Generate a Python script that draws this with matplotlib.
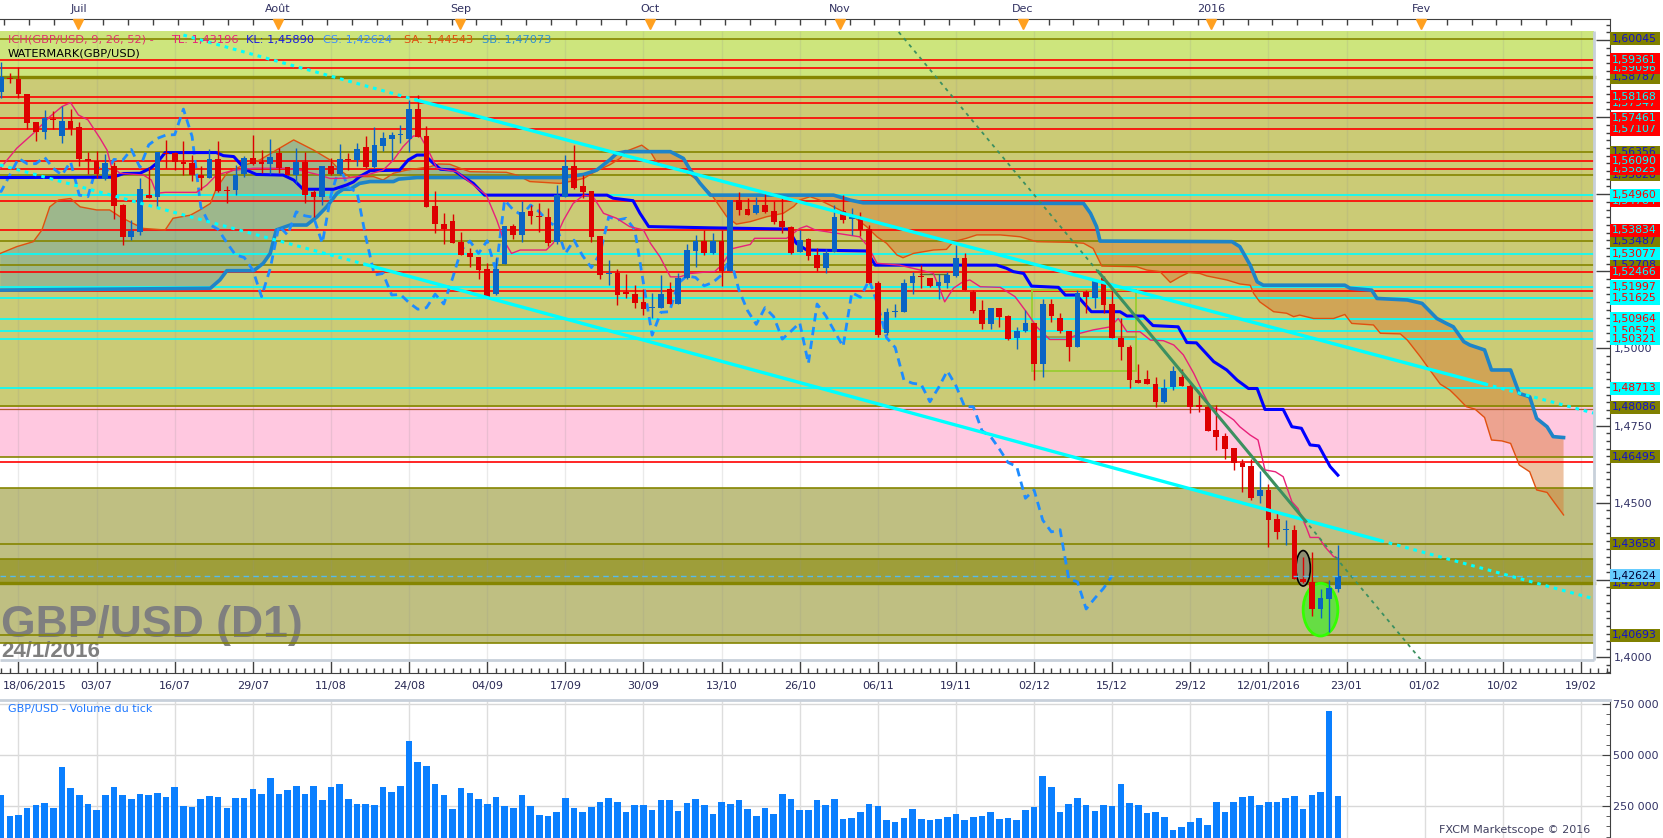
import matplotlib
matplotlib.use('Agg')
import matplotlib.pyplot as plt
import matplotlib.transforms as mtransforms
from matplotlib.patches import Rectangle, Ellipse
from matplotlib.ticker import FixedLocator, MultipleLocator
import numpy as np

# ---------------- data (bar index 0 = 18/06/2015) ----------------
first_bar = -2
opens = [1.5832, 1.5876, 1.5874, 1.5825, 1.5734, 1.5703, 1.5741, 1.5689, 1.5737, 1.5718,
         1.5614, 1.5609, 1.5549, 1.5591, 1.5465, 1.5362, 1.5378, 1.5497, 1.5492, 1.5632,
         1.5632, 1.5605, 1.5601, 1.5561, 1.5553, 1.5613, 1.5513, 1.5513, 1.5564, 1.5616,
         1.5600, 1.5599, 1.5634, 1.5588, 1.5562, 1.5605, 1.5508, 1.5492, 1.5591, 1.5565,
         1.5611, 1.5611, 1.5652, 1.5587, 1.5657, 1.5678, 1.5692, 1.5678, 1.5776, 1.5689,
         1.5462, 1.5403, 1.5413, 1.5346, 1.5308, 1.5297, 1.5257, 1.5178, 1.5273, 1.5397,
         1.5368, 1.5445, 1.5430, 1.5427, 1.5344, 1.5490, 1.5591, 1.5526, 1.5510, 1.5365,
         1.5242, 1.5245, 1.5184, 1.5175, 1.5151, 1.5131, 1.5130, 1.5193, 1.5144, 1.5227,
         1.5317, 1.5348, 1.5308, 1.5349, 1.5252, 1.5481, 1.5452, 1.5438, 1.5465, 1.5445,
         1.5413, 1.5395, 1.5313, 1.5355, 1.5303, 1.5262, 1.5313, 1.5445, 1.5421, 1.5422,
         1.5386, 1.5211, 1.5049, 1.5118, 1.5119, 1.5211, 1.5235, 1.5229, 1.5203, 1.5213,
         1.5235, 1.5294, 1.5184, 1.5124, 1.5078, 1.5132, 1.5106, 1.5035, 1.5056, 1.5083,
         1.4951, 1.5144, 1.5100, 1.5056, 1.5006, 1.5182, 1.5162, 1.5227, 1.5144, 1.5035,
         1.5003, 1.4898, 1.4901, 1.4883, 1.4827, 1.4874, 1.4907, 1.4879, 1.4812, 1.4811,
         1.4735, 1.4716, 1.4678, 1.4630, 1.4619, 1.4522, 1.4541, 1.4447, 1.4411, 1.4411,
         1.4252, 1.4243, 1.4155, 1.4187, 1.4220]
highs = [1.5930, 1.5894, 1.5911, 1.5826, 1.5735, 1.5773, 1.5770, 1.5787, 1.5775, 1.5735,
         1.5638, 1.5641, 1.5629, 1.5603, 1.5468, 1.5416, 1.5551, 1.5589, 1.5638, 1.5676,
         1.5638, 1.5672, 1.5627, 1.5591, 1.5647, 1.5673, 1.5526, 1.5595, 1.5624, 1.5692,
         1.5643, 1.5679, 1.5649, 1.5589, 1.5649, 1.5638, 1.5513, 1.5591, 1.5618, 1.5662,
         1.5632, 1.5665, 1.5689, 1.5717, 1.5703, 1.5703, 1.5724, 1.5805, 1.5822, 1.5721,
         1.5510, 1.5440, 1.5435, 1.5378, 1.5324, 1.5297, 1.5276, 1.5292, 1.5397, 1.5403,
         1.5479, 1.5465, 1.5470, 1.5456, 1.5530, 1.5627, 1.5660, 1.5562, 1.5510, 1.5365,
         1.5288, 1.5259, 1.5241, 1.5206, 1.5192, 1.5181, 1.5238, 1.5216, 1.5243, 1.5338,
         1.5368, 1.5384, 1.5373, 1.5384, 1.5481, 1.5508, 1.5487, 1.5492, 1.5505, 1.5478,
         1.5492, 1.5397, 1.5384, 1.5357, 1.5324, 1.5321, 1.5465, 1.5497, 1.5454, 1.5443,
         1.5400, 1.5218, 1.5130, 1.5143, 1.5225, 1.5249, 1.5270, 1.5229, 1.5240, 1.5249,
         1.5335, 1.5308, 1.5191, 1.5157, 1.5132, 1.5132, 1.5108, 1.5070, 1.5124, 1.5083,
         1.5160, 1.5160, 1.5114, 1.5056, 1.5189, 1.5189, 1.5224, 1.5235, 1.5189, 1.5098,
         1.5011, 1.4948, 1.4930, 1.4906, 1.4901, 1.4944, 1.4932, 1.4883, 1.4849, 1.4816,
         1.4816, 1.4725, 1.4678, 1.4641, 1.4643, 1.4604, 1.4560, 1.4471, 1.4443, 1.4427,
         1.4325, 1.4341, 1.4219, 1.4249, 1.4362]
lows = [1.5811, 1.5859, 1.5811, 1.5713, 1.5673, 1.5679, 1.5713, 1.5667, 1.5692, 1.5591,
        1.5565, 1.5551, 1.5546, 1.5418, 1.5335, 1.5351, 1.5368, 1.5487, 1.5459, 1.5584,
        1.5578, 1.5562, 1.5544, 1.5513, 1.5551, 1.5508, 1.5472, 1.5497, 1.5557, 1.5595,
        1.5568, 1.5565, 1.5568, 1.5562, 1.5535, 1.5472, 1.5427, 1.5465, 1.5562, 1.5562,
        1.5578, 1.5591, 1.5584, 1.5584, 1.5640, 1.5611, 1.5665, 1.5638, 1.5684, 1.5457,
        1.5375, 1.5338, 1.5343, 1.5303, 1.5265, 1.5224, 1.5168, 1.5173, 1.5273, 1.5355,
        1.5344, 1.5403, 1.5378, 1.5333, 1.5338, 1.5490, 1.5516, 1.5487, 1.5346, 1.5225,
        1.5206, 1.5141, 1.5162, 1.5130, 1.5108, 1.5097, 1.5130, 1.5144, 1.5144, 1.5224,
        1.5265, 1.5303, 1.5306, 1.5202, 1.5252, 1.5432, 1.5432, 1.5435, 1.5438, 1.5403,
        1.5375, 1.5306, 1.5313, 1.5287, 1.5252, 1.5245, 1.5313, 1.5408, 1.5368, 1.5365,
        1.5211, 1.5036, 1.5043, 1.5101, 1.5119, 1.5178, 1.5195, 1.5200, 1.5160, 1.5195,
        1.5232, 1.5189, 1.5114, 1.5062, 1.5062, 1.5070, 1.5027, 1.4998, 1.5054, 1.4897,
        1.4908, 1.5085, 1.5049, 1.4960, 1.5006, 1.5116, 1.5130, 1.5114, 1.5035, 1.4962,
        1.4871, 1.4887, 1.4883, 1.4811, 1.4824, 1.4865, 1.4879, 1.4789, 1.4795, 1.4733,
        1.4670, 1.4643, 1.4606, 1.4535, 1.4508, 1.4498, 1.4355, 1.4382, 1.4362, 1.4252,
        1.4238, 1.4133, 1.4127, 1.4080, 1.4209]
closes = [1.5881, 1.5874, 1.5824, 1.5732, 1.5703, 1.5748, 1.5740, 1.5737, 1.5711, 1.5614,
          1.5608, 1.5564, 1.5600, 1.5463, 1.5362, 1.5381, 1.5517, 1.5489, 1.5638, 1.5630,
          1.5605, 1.5599, 1.5562, 1.5553, 1.5613, 1.5511, 1.5509, 1.5562, 1.5616, 1.5599,
          1.5599, 1.5620, 1.5584, 1.5562, 1.5605, 1.5497, 1.5492, 1.5591, 1.5565, 1.5613,
          1.5610, 1.5645, 1.5587, 1.5660, 1.5681, 1.5692, 1.5693, 1.5776, 1.5687, 1.5459,
          1.5402, 1.5386, 1.5343, 1.5303, 1.5295, 1.5254, 1.5168, 1.5259, 1.5397, 1.5368,
          1.5443, 1.5430, 1.5425, 1.5341, 1.5497, 1.5591, 1.5521, 1.5507, 1.5362, 1.5238,
          1.5243, 1.5173, 1.5175, 1.5148, 1.5127, 1.5132, 1.5176, 1.5144, 1.5227, 1.5319,
          1.5348, 1.5308, 1.5349, 1.5252, 1.5481, 1.5449, 1.5432, 1.5465, 1.5443, 1.5411,
          1.5395, 1.5308, 1.5351, 1.5300, 1.5262, 1.5308, 1.5427, 1.5416, 1.5422, 1.5384,
          1.5211, 1.5043, 1.5117, 1.5119, 1.5211, 1.5235, 1.5230, 1.5203, 1.5214, 1.5238,
          1.5294, 1.5189, 1.5122, 1.5078, 1.5132, 1.5103, 1.5030, 1.5056, 1.5083, 1.4951,
          1.5144, 1.5106, 1.5056, 1.5006, 1.5181, 1.5166, 1.5222, 1.5141, 1.5035, 1.5003,
          1.4898, 1.4887, 1.4883, 1.4827, 1.4873, 1.4927, 1.4879, 1.4811, 1.4811, 1.4733,
          1.4714, 1.4674, 1.4630, 1.4617, 1.4514, 1.4541, 1.4443, 1.4405, 1.4412, 1.4252,
          1.4243, 1.4155, 1.4190, 1.4222, 1.4263]
volume = [306, 201, 205, 239, 253, 263, 239, 439, 338, 306, 258, 229, 306, 344, 306, 282,
          310, 306, 315, 296, 344, 248, 244, 282, 301, 295, 239, 287, 291, 334, 310, 387,
          310, 329, 349, 310, 349, 277, 344, 358, 282, 258, 258, 253, 344, 320, 349, 568,
          468, 444, 358, 306, 234, 339, 315, 282, 258, 296, 248, 239, 306, 248, 205, 201,
          220, 291, 239, 220, 244, 268, 291, 268, 220, 253, 253, 229, 277, 277, 225, 263,
          282, 253, 210, 268, 258, 277, 234, 201, 239, 210, 310, 282, 229, 229, 277, 253,
          282, 186, 191, 220, 258, 248, 182, 172, 191, 234, 186, 182, 186, 196, 210, 182,
          196, 201, 220, 186, 191, 182, 229, 244, 396, 344, 220, 258, 287, 253, 225, 253,
          248, 358, 263, 253, 215, 220, 196, 134, 148, 172, 191, 158, 268, 220, 268, 296,
          301, 253, 268, 268, 287, 301, 234, 306, 320, 716, 301]  # thousands

# Ichimoku lines (bar, price)
tenkan_i = [-2.1, -0.2, 1.7, 3.6, 5.0, 6.0, 6.9, 8.0, 9.4, 10.2, 10.7, 11.7, 14.4, 15.3, 15.9, 16.9,
            20.5, 21.7, 22.8, 24.8, 27.1, 30.9, 32.4, 34.7, 35.9, 37.8, 40.1, 42.0, 43.2, 44.3,
            45.5, 46.3, 47.2, 48.2, 50.5, 52.4, 53.9, 55.1, 55.9, 56.8, 57.8, 60.8, 61.6, 62.8,
            63.9, 65.1, 66.2, 67.4, 68.9, 70.4, 72.0, 72.8, 73.9, 75.1, 76.2, 77.4, 79.7, 80.2,
            81.0, 82.3, 84.3, 84.8, 88.5, 90.0, 90.8, 91.8, 96.9, 97.9, 98.9, 101.5, 103.9,
            105.4, 106.2, 106.7, 107.7, 108.8, 109.6, 110.8, 113.1, 114.8, 116.1, 117.3, 118.8,
            120.8, 122.3, 123.8, 125.8, 126.7, 127.7, 129.2, 130.4, 131.9, 133.1, 134.2, 135.4,
            136.5, 137.3, 138.4, 140.0, 140.7, 141.9, 142.8, 143.6, 144.8, 145.7, 146.7, 147.4,
            148.4, 148.8, 149.8, 150.5, 151.5, 152.0]
tenkan_p = [1.5584, 1.5649, 1.5697, 1.5751, 1.5784, 1.5797, 1.5757, 1.5741, 1.5681, 1.5643, 1.5589,
            1.5568, 1.5562, 1.5546, 1.5503, 1.5506, 1.5506, 1.5530, 1.5562, 1.5578, 1.5584, 1.5584,
            1.5578, 1.5562, 1.5551, 1.5552, 1.5562, 1.5578, 1.5611, 1.5654, 1.5689, 1.5687, 1.5643,
            1.5584, 1.5573, 1.5530, 1.5497, 1.5416, 1.5351, 1.5308, 1.5319, 1.5319, 1.5341, 1.5416,
            1.5470, 1.5497, 1.5492, 1.5438, 1.5422, 1.5395, 1.5384, 1.5341, 1.5297, 1.5232, 1.5232,
            1.5243, 1.5249, 1.5249, 1.5270, 1.5324, 1.5337, 1.5357, 1.5357, 1.5389, 1.5397, 1.5384,
            1.5362, 1.5330, 1.5276, 1.5270, 1.5254, 1.5243, 1.5189, 1.5151, 1.5195, 1.5216, 1.5222,
            1.5200, 1.5198, 1.5168, 1.5119, 1.5070, 1.5029, 1.5029, 1.5049, 1.5060, 1.5070, 1.5097,
            1.5054, 1.5054, 1.5027, 1.5025, 1.5011, 1.4979, 1.4919, 1.4854, 1.4811, 1.4800, 1.4768,
            1.4746, 1.4719, 1.4703, 1.4606, 1.4600, 1.4584, 1.4503, 1.4481, 1.4417, 1.4387, 1.4387,
            1.4357, 1.4325, 1.4320]
kijun_i = [-2.1, 10.9, 12.1, 14.0, 15.2, 15.9, 16.9, 22.8, 23.6, 24.8, 25.5, 26.3, 27.4, 30.5, 31.7,
           32.8, 36.3, 37.8, 38.6, 39.3, 40.5, 43.9, 44.9, 45.9, 46.8, 47.8, 48.6, 50.1, 51.2, 52.4,
           53.7, 67.8, 68.5, 70.8, 71.6, 72.6, 79.7, 88.7, 89.6, 90.8, 97.7, 98.7, 112.7, 113.8,
           114.6, 115.8, 116.7, 119.8, 120.6, 121.9, 123.6, 126.9, 127.7, 129.6, 130.7, 133.6,
           134.6, 135.7, 137.7, 139.2, 140.4, 141.7, 142.7, 143.6, 145.7, 146.7, 147.8, 148.8,
           149.8, 151.1, 152.0]
kijun_p = [1.5554, 1.5555, 1.5567, 1.5568, 1.5584, 1.5600, 1.5635, 1.5635, 1.5625, 1.5622, 1.5600,
           1.5578, 1.5564, 1.5562, 1.5546, 1.5516, 1.5516, 1.5530, 1.5540, 1.5557, 1.5576, 1.5578,
           1.5611, 1.5627, 1.5627, 1.5600, 1.5581, 1.5578, 1.5557, 1.5535, 1.5497, 1.5497, 1.5487,
           1.5479, 1.5438, 1.5395, 1.5391, 1.5387, 1.5341, 1.5319, 1.5316, 1.5270, 1.5270, 1.5260,
           1.5249, 1.5243, 1.5202, 1.5198, 1.5173, 1.5173, 1.5119, 1.5119, 1.5105, 1.5105, 1.5074,
           1.5070, 1.5019, 1.5018, 1.4957, 1.4930, 1.4897, 1.4870, 1.4870, 1.4802, 1.4802, 1.4746,
           1.4741, 1.4687, 1.4684, 1.4617, 1.4589]
senkou_a_i = [-2.1, -0.2, 1.7, 2.7, 3.6, 4.6, 6.0, 7.1, 9.0, 10.5, 11.7, 13.2, 14.4, 16.9, 17.8, 19.8,
              20.9, 22.1, 22.8, 24.0, 25.5, 27.8, 29.7, 31.7, 34.0, 35.9, 37.0, 38.2, 39.7, 40.9,
              42.0, 43.2, 44.7, 47.4, 48.4, 49.7, 50.9, 52.0, 56.2, 57.4, 58.0, 58.9, 62.4, 63.5,
              65.1, 66.6, 68.1, 69.3, 69.9, 71.8, 72.8, 73.5, 74.7, 75.8, 77.0, 78.1, 79.7, 80.0,
              81.6, 82.7, 84.3, 86.2, 88.1, 89.3, 90.0, 91.2, 92.3, 93.1, 94.6, 96.2, 97.7, 98.9,
              100.0, 101.2, 101.9, 103.1, 105.4, 106.9, 107.7, 109.2, 110.4, 113.1, 115.4, 117.3,
              121.1, 122.7, 123.8, 124.8, 128.8, 130.0, 131.5, 132.7, 133.8, 134.8, 136.1, 136.9,
              139.2, 140.7, 141.9, 142.3, 143.0, 144.6, 146.1, 146.9, 147.6, 149.2, 151.5, 152.8,
              153.6, 156.1, 156.9, 159.2, 160.0, 161.5, 162.6, 163.8, 164.9, 165.7, 166.8, 167.8,
              168.9, 169.7, 170.9, 171.9, 172.9, 174.1, 174.9, 176.1, 177.0, 178.0]
senkou_a_p = [1.5308, 1.5330, 1.5346, 1.5384, 1.5459, 1.5481, 1.5486, 1.5459, 1.5449, 1.5449, 1.5427,
              1.5405, 1.5389, 1.5384, 1.5422, 1.5432, 1.5449, 1.5470, 1.5519, 1.5568, 1.5589, 1.5611,
              1.5643, 1.5676, 1.5643, 1.5611, 1.5578, 1.5555, 1.5557, 1.5557, 1.5546, 1.5568, 1.5578,
              1.5589, 1.5598, 1.5597, 1.5584, 1.5573, 1.5571, 1.5562, 1.5554, 1.5541, 1.5535, 1.5541,
              1.5551, 1.5576, 1.5595, 1.5616, 1.5638, 1.5659, 1.5638, 1.5605, 1.5587, 1.5584, 1.5570,
              1.5548, 1.5503, 1.5492, 1.5427, 1.5403, 1.5411, 1.5427, 1.5438, 1.5460, 1.5481, 1.5492,
              1.5481, 1.5470, 1.5449, 1.5427, 1.5395, 1.5362, 1.5341, 1.5303, 1.5294, 1.5308, 1.5319,
              1.5321, 1.5346, 1.5357, 1.5368, 1.5368, 1.5362, 1.5346, 1.5344, 1.5341, 1.5324, 1.5267,
              1.5265, 1.5254, 1.5249, 1.5214, 1.5232, 1.5246, 1.5243, 1.5235, 1.5222, 1.5209, 1.5205,
              1.5178, 1.5151, 1.5119, 1.5114, 1.5103, 1.5108, 1.5097, 1.5097, 1.5110, 1.5081, 1.5076,
              1.5049, 1.5047, 1.5027, 1.4973, 1.4930, 1.4884, 1.4865, 1.4843, 1.4811, 1.4803, 1.4776,
              1.4703, 1.4700, 1.4692, 1.4622, 1.4600, 1.4541, 1.4533, 1.4498, 1.4460]
senkou_b_i = [-2.1, 22.1, 23.2, 24.0, 27.1, 28.2, 29.0, 29.7, 31.3, 33.2, 34.4, 35.5, 36.7, 37.4, 38.2,
              39.3, 40.5, 43.2, 43.8, 45.9, 58.0, 62.4, 65.1, 66.6, 68.1, 68.9, 69.9, 72.8, 75.1,
              76.6, 77.4, 78.5, 79.7, 93.9, 95.8, 97.3, 122.7, 123.5, 124.2, 124.6, 139.8, 140.7,
              141.9, 142.7, 143.4, 152.8, 153.4, 155.9, 156.5, 160.0, 161.7, 163.4, 164.5, 165.3,
              166.5, 167.2, 168.9, 169.7, 171.9, 172.9, 174.1, 174.9, 176.1, 176.8, 178.0]
senkou_b_p = [1.5189, 1.5195, 1.5222, 1.5252, 1.5252, 1.5276, 1.5308, 1.5384, 1.5400, 1.5400, 1.5427,
              1.5459, 1.5503, 1.5516, 1.5516, 1.5535, 1.5541, 1.5541, 1.5549, 1.5554, 1.5554, 1.5554,
              1.5564, 1.5578, 1.5611, 1.5632, 1.5638, 1.5638, 1.5638, 1.5616, 1.5578, 1.5536, 1.5497,
              1.5497, 1.5481, 1.5472, 1.5470, 1.5438, 1.5395, 1.5348, 1.5346, 1.5330, 1.5270, 1.5216,
              1.5205, 1.5205, 1.5195, 1.5189, 1.5162, 1.5157, 1.5146, 1.5097, 1.5081, 1.5070, 1.5022,
              1.5011, 1.4995, 1.4930, 1.4930, 1.4854, 1.4843, 1.4773, 1.4746, 1.4714, 1.4711]
cloud_ranges = [(-2.1, 58.0, 'up'), (58.0, 69.9, 'down'), (69.9, 72.8, 'up'), (72.8, 178.0, 'down')]

# zones, levels and drawings
zone_low = [1.58787, 1.48086, 1.46495, 1.4045, 1.4239]
zone_high = [1.60292, 1.58787, 1.48086, 1.4547, 1.4318]
olive_levels = [1.60045, 1.58787, 1.56356, 1.55628, 1.53487, 1.52708, 1.48130, 1.46495,
                1.4547, 1.43658, 1.4318, 1.4239, 1.40693, 1.4045]
red_levels = [1.59361, 1.59096, 1.58168, 1.57947, 1.57461, 1.57107, 1.56090, 1.55825,
              1.54784, 1.53834, 1.52466, 1.51865, 1.4632]
cyan_levels = [1.54960, 1.53077, 1.51997, 1.51625, 1.50964, 1.50573, 1.50321, 1.48713]
last_price = 1.42624

olive_tags = ['1,60045', '1,58787', '1,56356', '1,55628', '1,53487', '1,52708', '1,48086',
              '1,46495', '1,43658', '1,42509', '1,40693']
olive_tag_p = [1.60045, 1.58787, 1.56356, 1.55628, 1.53487, 1.52708, 1.48086, 1.46495,
               1.43658, 1.4240, 1.40693]
red_tags = ['1,52466', '1,53834', '1,54784', '1,55825', '1,56090', '1,57107', '1,57461',
            '1,57947', '1,58168', '1,59096', '1,59361']
red_tag_p = [1.52466, 1.53834, 1.54784, 1.55825, 1.56090, 1.57107, 1.57461, 1.57947,
             1.58168, 1.59096, 1.59361]
cyan_tags = ['1,48713', '1,50573', '1,50321', '1,50964', '1,51625', '1,51997', '1,53077', '1,54960']
cyan_tag_p = [1.48713, 1.50573, 1.50321, 1.50964, 1.51625, 1.51997, 1.53077, 1.54960]

upper_trend_i = [19.0, 45.9, 168.9, 181.5]
upper_trend_p = [1.6016, 1.5805, 1.4885, 1.4790]
lower_trend_i = [-2.13, 40.0, 156.9, 181.5]
lower_trend_p = [1.5595, 1.5272, 1.4377, 1.4188]
green_trend_i = [101.4, 124.4, 148.3, 161.6]
green_trend_p = [1.6026, 1.5249, 1.4439, 1.3989]
box_i = [116.8, 128.7]
box_p = [1.4927, 1.5189]
box_mid_p = 1.5037
mark_i = [103.9, 107.0]
mark_p = 1.5241

date_labels = ['18/06/2015', '03/07', '16/07', '29/07', '11/08', '24/08', '04/09', '17/09',
               '30/09', '13/10', '26/10', '06/11', '19/11', '02/12', '15/12', '29/12',
               '12/01/2016', '23/01', '01/02', '10/02', '19/02']
date_tick_i = [9 * k for k in range(len(date_labels))]
months = ['Juil', 'Août', 'Sep', 'Oct', 'Nov', 'Dec', '2016', 'Fev']
month_i = [6.9, 29.9, 50.9, 72.8, 94.6, 115.7, 137.4, 161.6]

# ---------------- layout ----------------
W, H = 1663, 838
fig = plt.figure(figsize=(W / 100, H / 100), dpi=100)
fig.patch.set_facecolor('white')


def px_axes(left, top, right, bottom):
    return fig.add_axes([left / W, 1 - bottom / H, (right - left) / W, (bottom - top) / H])


ax = px_axes(0, 19, 1610, 673)
vax = px_axes(0, 700, 1610, 838)
X0, X1 = -2.131, 183.35
PLOT_R = 181.5
PLOT_TOP, PLOT_BOT = 1.60292, 1.39896
XF = 1594 / 1610
ax.set_xlim(X0, X1)
ax.set_ylim(1.39475, 1.60681)
ax.set_facecolor('white')

idx = np.arange(first_bar, first_bar + len(closes))
o = np.array(opens); h = np.array(highs); l = np.array(lows); c = np.array(closes)

# background zones
zone_colors = ['#CDE57D', '#CBCB76', '#FFC8E0', '#BFBF82', '#9E9E3A']
for lo, hi, col in zip(zone_low, zone_high, zone_colors):
    ax.axhspan(lo, hi, xmin=0, xmax=XF, color=col, lw=0, zorder=0.5)

ax.vlines(date_tick_i, PLOT_BOT, PLOT_TOP, color='#909090', alpha=0.18, lw=1, zorder=0.8)

# cloud
for a, b, kind in cloud_ranges:
    pa = [(x, y) for x, y in zip(senkou_a_i, senkou_a_p) if a <= x <= b]
    pb = [(x, y) for x, y in zip(senkou_b_i, senkou_b_p) if a <= x <= b]
    poly = pa + pb[::-1]
    if kind == 'up':
        ax.fill([p[0] for p in poly], [p[1] for p in poly], color='#5E9CAB', alpha=0.42, lw=0, zorder=1)
    else:
        ax.fill([p[0] for p in poly], [p[1] for p in poly], color='#D87830', alpha=0.45, lw=0, zorder=1)

# horizontal levels
for y in olive_levels:
    lw = 2.4 if y in (1.58787, 1.4239) else 1.2
    ax.axhline(y, xmin=0, xmax=XF, color='#858500', lw=lw, zorder=1.5)
for y in red_levels:
    ax.axhline(y, xmin=0, xmax=XF, color='#FF0000', lw=1.2, zorder=1.5)
for y in cyan_levels:
    ax.axhline(y, xmin=0, xmax=XF, color='#00FFFF', lw=1.2, zorder=1.5)
ax.axhline(1.4805, xmin=0, xmax=XF, color='#B05A30', lw=0.9, zorder=1.5)

# rectangle drawing and small mark
ax.add_patch(Rectangle((box_i[0], box_p[0]), box_i[1] - box_i[0], box_p[1] - box_p[0],
                       fill=False, ec='#9ACD32', lw=1.3, zorder=1.6))
ax.plot(box_i, [box_mid_p, box_mid_p], color='#A0A048', lw=1.5, zorder=1.6)
ax.plot(mark_i, [mark_p, mark_p], color='#557733', lw=1, zorder=1.6)

# senkou lines
ax.plot(senkou_a_i, senkou_a_p, color='#E0500F', lw=1.0, zorder=2.2)
ax.plot(senkou_b_i, senkou_b_p, color='#1E84C8', lw=2.6, zorder=2.2)

# ellipses
ax.add_patch(Ellipse((150.0, 1.4153), 4.0, 0.0171, fc='#66DD44', ec='#33FF00', lw=2, zorder=3.5))
ax.add_patch(Ellipse((148.0, 1.4287), 1.65, 0.0115, fc='#8E8E72', ec='black', lw=1.2, zorder=3.5))

# ichimoku lines
ax.plot(idx - 26, c, color='#1E8CFF', lw=2.0, dashes=(3, 2), zorder=3)
ax.plot(kijun_i, kijun_p, color='#0000FF', lw=2.2, zorder=3)
ax.plot(tenkan_i, tenkan_p, color='#E8207A', lw=1.0, zorder=3)

# candles
cols = np.where(c >= o, '#0A64C4', '#DD0000')
ax.vlines(idx, l, h, colors=cols, lw=1.0, zorder=4)
ax.bar(idx, np.maximum(np.abs(c - o), 0.0004), bottom=np.minimum(o, c), width=0.66,
       color=cols, lw=0, zorder=4.1)

# trend lines
ax.plot(upper_trend_i[0:2], upper_trend_p[0:2], color='#00FFFF', lw=2.2, dashes=(1.2, 1.6), zorder=5)
ax.plot(upper_trend_i[1:3], upper_trend_p[1:3], color='#00FFFF', lw=2.4, zorder=5)
ax.plot(upper_trend_i[2:4], upper_trend_p[2:4], color='#00FFFF', lw=2.2, dashes=(1.2, 1.6), zorder=5)
ax.plot(lower_trend_i[0:2], lower_trend_p[0:2], color='#00FFFF', lw=2.2, dashes=(1.2, 1.6), zorder=5)
ax.plot(lower_trend_i[1:3], lower_trend_p[1:3], color='#00FFFF', lw=2.4, zorder=5)
ax.plot(lower_trend_i[2:4], lower_trend_p[2:4], color='#00FFFF', lw=2.2, dashes=(1.2, 1.6), zorder=5)
ax.plot([green_trend_i[0], green_trend_i[3]], [green_trend_p[0], green_trend_p[3]],
        color='#3C9060', lw=1.3, dashes=(2, 2.5), zorder=5)
ax.plot(green_trend_i[1:3], green_trend_p[1:3], color='#3C9060', lw=2.2, zorder=5)
ax.axhline(last_price, xmin=0, xmax=XF, color='#55BBEE', lw=1.0, dashes=(4, 3), zorder=5)

# plot-area separators
ax.hlines(PLOT_BOT, X0, PLOT_R, color='#C8D0DA', lw=2, zorder=6)
ax.vlines(PLOT_R, PLOT_BOT, PLOT_TOP, color='#C8D0DA', lw=2, zorder=6)

# watermark and legend
ax.text(X0 + 0.1, 1.4064, 'GBP/USD (D1)', fontfamily='Liberation Sans', fontweight='bold',
        fontsize=32, color='#7F7F7F', ha='left', va='baseline', zorder=0.9)
ax.text(X0 + 0.1, 1.39994, '24/1/2016', fontfamily='Liberation Sans', fontweight='bold',
        fontsize=16, color='#7F7F7F', ha='left', va='baseline', zorder=0.9)
legend_parts = [('ICH(GBP/USD, 9, 26, 52) -', 8, '#E0306A'), ('TL: 1,43196', 171, '#E8207A'),
                ('KL: 1,45890', 246, '#1A1AE0'), ('CS: 1,42624', 323, '#3C8CFF'),
                ('SA: 1,44543', 404, '#E05010'), ('SB: 1,47073', 482, '#2F8FD0')]
for txt, xp, col in legend_parts:
    fig.text(xp / W, 1 - 40 / H, txt, fontsize=8.2, color=col, ha='left', va='center')
fig.text(8 / W, 1 - 53 / H, 'WATERMARK(GBP/USD)', fontsize=8.2, color='black', ha='left', va='center')

# axes frame and ticks
for s in ['left']:
    ax.spines[s].set_visible(False)
for s in ['top', 'bottom', 'right']:
    ax.spines[s].set_color('#404040')
ax.yaxis.tick_right()
ax.yaxis.set_major_locator(FixedLocator([1.40 + 0.025 * k for k in range(9)]))
ax.yaxis.set_minor_locator(MultipleLocator(0.0025))
ax.set_yticklabels([f"{1.40 + 0.025 * k:.4f}".replace('.', ',') for k in range(9)])
ax.tick_params(axis='y', which='major', direction='in', length=10, width=1, pad=3,
               labelsize=8, labelcolor='#333366', color='#404040')
ax.tick_params(axis='y', which='minor', direction='in', length=3, width=1, color='#404040')
ax.set_xticks(date_tick_i)
ax.set_xticklabels(date_labels)
ax.xaxis.set_minor_locator(MultipleLocator(1))
ax.tick_params(axis='x', which='major', direction='in', length=8.5, width=1, pad=6,
               labelsize=8, labelcolor='#2A2A55', color='#404040')
ax.tick_params(axis='x', which='minor', direction='in', length=3.5, width=1, color='#404040')
# the first date label sits flush with the left edge
first_lbl = ax.get_xticklabels()[0]
first_lbl.set_horizontalalignment('left')
first_lbl.set_transform(first_lbl.get_transform()
                        + mtransforms.ScaledTranslation(-0.16, 0, fig.dpi_scale_trans))

top_ticks = np.arange(month_i[0] - 3 * 2.866, PLOT_R, 2.866)
ax.vlines(top_ticks, 1 - 6 / 654, 1, transform=ax.get_xaxis_transform(), color='#404040',
          lw=1, clip_on=False, zorder=6)
ax.plot(month_i, [1 - 4.5 / 654] * len(month_i), 'v', color='#FFA020', ms=6.5,
        transform=ax.get_xaxis_transform(), clip_on=False, zorder=7)
for m, mi in zip(months, month_i):
    ax.text(mi, 1 + 10 / 654, m, transform=ax.get_xaxis_transform(), fontsize=8,
            color='#303060', ha='center', va='center')

# price tags on the right
blend = mtransforms.blended_transform_factory(ax.transAxes, ax.transData)
TAG_H = 13 / 3084


def tag(p, s, fc, tc, z):
    ax.add_patch(Rectangle((1.0, p - TAG_H / 2), 50 / 1610, TAG_H, transform=blend, fc=fc,
                           ec='none', clip_on=False, zorder=z))
    ax.text(1612 / 1610, p, s, transform=blend, fontsize=7.8, color=tc, ha='left', va='center',
            clip_on=False, zorder=z + 0.001)


order = np.argsort(olive_tag_p)
for k, j in enumerate(order):
    tag(olive_tag_p[j], olive_tags[j], '#808000', '#1010D0', 10 + k * 0.01)
for k, (p, s) in enumerate(zip(red_tag_p, red_tags)):
    tag(p, s, '#FF0000', '#00FFFF', 11 + k * 0.01)
for k, (p, s) in enumerate(zip(cyan_tag_p, cyan_tags)):
    tag(p, s, '#00FFFF', '#FF0000', 12 + k * 0.01)
tag(last_price, '1,42624', '#66CCFF', '#000033', 13)

# ---------------- volume panel ----------------
vax.set_xlim(X0, X1)
vax.set_ylim(93, 770)
vax.set_facecolor('white')
vax.axhline(250, color='#D8D8D8', lw=1, zorder=0.5)
vax.axhline(500, color='#D8D8D8', lw=1, zorder=0.5)
vax.axhline(750, color='#D8D8D8', lw=1, zorder=0.5)
vax.vlines(date_tick_i, 93, 770, color='#DDDDDD', lw=1, zorder=0.5)
vax.bar(idx, volume, width=0.76, color='#0A7FFF', lw=0, zorder=2)
vax.spines['left'].set_visible(False)
vax.spines['bottom'].set_visible(False)
vax.spines['top'].set_color('#C8D0DA')
vax.spines['top'].set_linewidth(2)
vax.spines['right'].set_color('#404040')
vax.yaxis.tick_right()
vax.set_yticks([250, 500, 750])
vax.set_yticklabels(['250 000', '500 000', '750 000'])
vax.yaxis.set_minor_locator(MultipleLocator(50))
vax.tick_params(axis='y', which='major', direction='in', length=6, pad=2, labelsize=8,
                labelcolor='#333366', color='#404040')
vax.tick_params(axis='y', which='minor', direction='in', length=3, color='#404040')
vax.set_xticks([])
vax.text(8 / 1610, 1 - 9 / 138, 'GBP/USD - Volume du tick', transform=vax.transAxes,
         fontsize=8, color='#1E78FF', ha='left', va='center')
vax.text(1590 / 1610, 8 / 138, 'FXCM Marketscope © 2016', transform=vax.transAxes,
         fontsize=8, color='#404060', ha='right', va='center', zorder=5)

fig.savefig('out.png', dpi=100)
